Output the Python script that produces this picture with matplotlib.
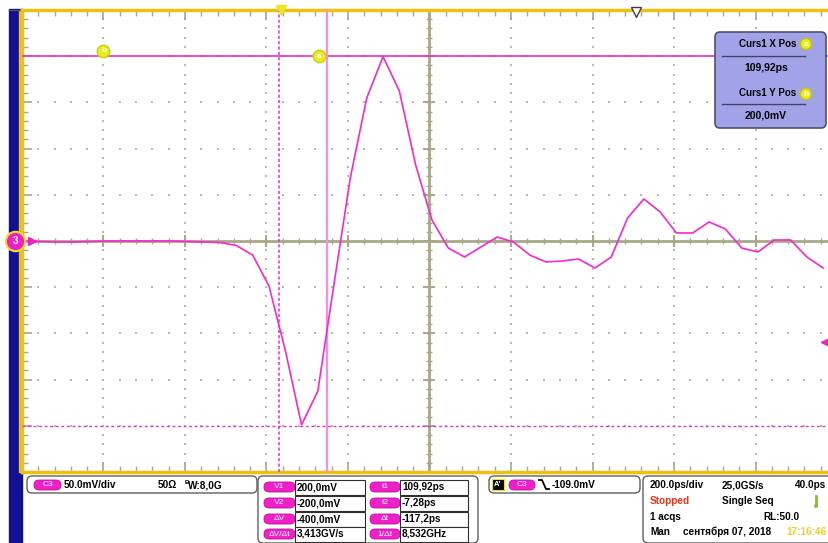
import numpy as np
import matplotlib
matplotlib.use("Agg")
from matplotlib import pyplot as plt
from matplotlib.patches import FancyBboxPatch, Rectangle, Circle
import matplotlib.transforms as mtransforms

plt.rcParams['font.family'] = ['Liberation Sans', 'DejaVu Sans']

# Осциллограмма C3: 25 GS/s -> шаг 40 пс, 50 точек
t_first = -632.0          # пс, время первой точки
dt = 40.0
volts = [0.0, -0.5, -1.1, -1.1, -0.5, 0.0, 0.0, 0.0, 0.0, 0.0,
         -0.5, -1.1, -1.6, -4.9, -15.2, -48.7, -118.0, -199.0, -162.3, -45.5,
         69.3, 154.8, 199.5, 162.3, 82.2, 22.7, -7.6, -17.3, -6.5, 4.3,
         -1.1, -15.2, -22.7, -21.6, -19.5, -29.2, -17.3, 24.9, 45.5, 31.4,
         8.7, 8.7, 20.6, 13.0, -7.6, -11.9, 1.1, 1.1, -17.3, -29.2]  # мВ

# Курсоры
t1 = 109.92
t2 = -7.28
v1 = 200.0
v2 = -200.0
trig_level = -109.0
trig_pos = 868.0

# Развертка
t_left = -638.0
ps_div = 200.0
mv_div = 50.0

times = t_first + dt * np.arange(len(volts))

W, H = 829, 543
fig = plt.figure(figsize=(W / 100, H / 100), dpi=100)
fig.patch.set_facecolor('white')

# Фон (синяя полоса слева) - под окном
back = fig.add_axes([0, 0, 1, 1], zorder=0)
back.set_xlim(0, W)
back.set_ylim(H, 0)
back.axis('off')
back.add_patch(Rectangle((9, 9), 13, H - 9, color='#101090', zorder=1))
back.add_patch(Rectangle((19, 10), 3, 462, color='#f0c010', zorder=2))
back.plot([9, W], [9.5, 9.5], color='#505060', lw=1, zorder=2)

# Окно осциллографа (правый край уходит за кадр)
ax = fig.add_axes([22 / W, (H - 472) / H, 815 / W, 462 / H], zorder=1)
ax.set_xlim(t_left, t_left + 10 * ps_div)
ax.set_ylim(-5 * mv_div, 5 * mv_div)
ax.set_facecolor('white')
for s in ['top', 'left', 'bottom']:
    ax.spines[s].set_color('#f0c010')
    ax.spines[s].set_linewidth(2.5)
ax.spines['right'].set_visible(False)

grid_col = '#a8a888'
xmaj = t_left + ps_div * np.arange(11)
ymaj = mv_div * np.arange(-5, 6)
xmin_ = t_left + ps_div / 5 * np.arange(51)
ymin_ = mv_div / 5 * np.arange(-25, 26)
ax.set_xticks(xmaj)
ax.set_yticks(ymaj)
ax.set_xticks(xmin_, minor=True)
ax.set_yticks(ymin_, minor=True)
ax.tick_params(which='both', direction='in', top=True, bottom=True, left=True, right=False,
               labelbottom=False, labelleft=False, color=grid_col)
ax.tick_params(which='major', length=7, width=1.2)
ax.tick_params(which='minor', length=4, width=1.0)

# точечная сетка
xc = t_left + 5 * ps_div
for xg in xmaj[1:-1]:
    if xg != xc:
        ax.scatter(np.full(len(ymin_), xg), ymin_, s=0.8, color='#b8b8b0', marker='s', lw=0, zorder=1)
for yg in ymaj[1:-1]:
    if yg != 0:
        ax.scatter(xmin_, np.full(len(xmin_), yg), s=0.8, color='#b8b8b0', marker='s', lw=0, zorder=1)

# центральный крест
ax.axhline(0, color=grid_col, lw=2, zorder=2)
ax.axvline(xc, color=grid_col, lw=2, zorder=2)
ax.plot(xmin_, np.zeros(len(xmin_)), ls='none', marker='|', ms=5, mew=1, color=grid_col, zorder=2)
ax.plot(xmaj, np.zeros(len(xmaj)), ls='none', marker='|', ms=9, mew=1.4, color=grid_col, zorder=2)
ax.plot(np.full(len(ymin_), xc), ymin_, ls='none', marker='_', ms=5, mew=1, color=grid_col, zorder=2)
ax.plot(np.full(len(ymaj), xc), ymaj, ls='none', marker='_', ms=9, mew=1.4, color=grid_col, zorder=2)

# курсоры
ax.axhline(v1, color='#e830c8', lw=1.2, zorder=3)
ax.axhline(v2, color='#e830c8', lw=1.0, ls=(0, (2, 2)), zorder=3)
ax.axvline(t1, color='#f490e4', lw=1.6, zorder=3)
ax.axvline(t2, color='#e030c8', lw=1.1, ls=(0, (2, 1.5)), zorder=3)

# сигнал
ax.plot(times, volts, color='#f828d0', lw=1.2, zorder=5)

# метки курсоров
def ycirc(x, y, letter):
    ax.plot(x, y, marker='o', ms=9, color='#e8ec20', mec='#d0d000', zorder=6, clip_on=False)
    ax.text(x, y, letter, color='white', fontsize=6, fontweight='bold', ha='center', va='center', zorder=7)

ycirc(t_left + 1.0 * ps_div, v1 + 6, 'b')
ycirc(t1 - 20, v1, 'a')
ax.plot(t2 + 6, 5 * mv_div, marker='v', ms=7, color='#e8e820', zorder=8, clip_on=False)
ax.plot(trig_pos, 5 * mv_div - 2, marker='v', ms=7, mfc='white', mec='#404040', mew=1, zorder=8, clip_on=False)
ax.plot(t_left + 9.85 * ps_div, trig_level, marker='<', ms=6, color='#f020c8', zorder=8, clip_on=False)
ax.plot([t_left + 9.85 * ps_div, t_left + 10 * ps_div], [trig_level, trig_level], color='#f020c8', lw=1, clip_on=False)

# маркер канала
trans = mtransforms.blended_transform_factory(ax.transAxes, ax.transData)
ax.plot(0.012, 0, marker='>', ms=6, color='#f020c8', transform=trans, clip_on=False, zorder=8)
ax.plot(-0.008, 0, marker='o', ms=14, mfc='#f020c8', mec='#f0e020', mew=1.5, transform=trans, clip_on=False, zorder=9)
ax.text(-0.008, 0, '3', transform=trans, color='white', fontsize=7, fontweight='bold', ha='center', va='center', zorder=10)

# Оверлей в пикселях
ov = fig.add_axes([0, 0, 1, 1], zorder=2)
ov.set_xlim(0, W)
ov.set_ylim(H, 0)
ov.axis('off')
ov.patch.set_alpha(0)

# окно Curs1
ov.add_patch(FancyBboxPatch((715, 32), 111, 96, boxstyle='round,pad=0,rounding_size=5',
                            fc='#a2a2e8', ec='#505070', lw=1.2, zorder=5))
ov.text(768, 44, 'Curs1 X Pos', fontsize=7, fontweight='bold', ha='center', va='center', zorder=6)
ov.plot([722, 805], [56, 56], color='#404060', lw=1, zorder=6)
ov.text(766, 68, '109,92ps', fontsize=7.5, fontweight='bold', ha='center', va='center', zorder=6)
ov.text(768, 93, 'Curs1 Y Pos', fontsize=7, fontweight='bold', ha='center', va='center', zorder=6)
ov.plot([722, 805], [104, 104], color='#404060', lw=1, zorder=6)
ov.text(766, 116, '200,0mV', fontsize=7.5, fontweight='bold', ha='center', va='center', zorder=6)
for yy, let in [(44, 'a'), (94, 'b')]:
    ov.add_patch(Circle((806, yy), 5.5, fc='#e8ec20', ec='#c8c800', zorder=6))
    ov.text(806, yy, let, color='white', fontsize=6, fontweight='bold', ha='center', va='center', zorder=7)

def panel(x, y, w, h):
    ov.add_patch(FancyBboxPatch((x, y), w, h, boxstyle='round,pad=0,rounding_size=5',
                                fc='white', ec='#606060', lw=1, zorder=3))

def pill(x, y, w, label):
    ov.add_patch(FancyBboxPatch((x, y - 5), w, 10, boxstyle='round,pad=0,rounding_size=5',
                                fc='#f020c8', ec='#c010a0', lw=0.6, zorder=4))
    ov.text(x + w / 2, y, label, color='white', fontsize=6, ha='center', va='center', zorder=5)

fs = 7.2
# канал
panel(27, 476, 230, 17)
pill(34, 485, 27, 'C3')
ov.text(64, 485, '50.0mV/div', fontsize=fs, fontweight='bold', va='center', zorder=5)
ov.text(158, 485, '50Ω', fontsize=fs, fontweight='bold', va='center', zorder=5)
ov.text(185, 482, 'B', fontsize=4.5, fontweight='bold', va='center', zorder=5)
ov.text(188, 486, 'W:8,0G', fontsize=fs, fontweight='bold', va='center', zorder=5)

# измерения курсоров
panel(258, 476, 220, 67)
rows = [487, 503, 519, 534]
left_lab = ['V1', 'V2', 'ΔV', 'ΔV/Δt']
left_val = ['200,0mV', '-200,0mV', '-400,0mV', '3,413GV/s']
right_lab = ['t1', 't2', 'Δt', '1/Δt']
right_val = ['109,92ps', '-7,28ps', '-117,2ps', '8,532GHz']
for yy, a, b, c, d in zip(rows, left_lab, left_val, right_lab, right_val):
    pill(264, yy, 31, a)
    ov.add_patch(Rectangle((295, yy - 7.5), 70, 15, fc='white', ec='#303030', lw=0.8, zorder=4))
    ov.text(297, yy, b, fontsize=fs, fontweight='bold', va='center', zorder=5)
    pill(370, yy, 30, c)
    ov.add_patch(Rectangle((400, yy - 7.5), 68, 15, fc='white', ec='#303030', lw=0.8, zorder=4))
    ov.text(402, yy, d, fontsize=fs, fontweight='bold', va='center', zorder=5)

# триггер
panel(489, 476, 151, 17)
ov.add_patch(Rectangle((492, 479), 12, 11, fc='black', ec='#e8e020', lw=0.8, zorder=4))
ov.text(498, 484.5, "A'", color='white', fontsize=5.5, fontweight='bold', ha='center', va='center', zorder=5)
pill(509, 485, 26, 'C3')
ov.plot([539, 542, 546, 549], [480, 480, 489, 489], color='black', lw=1.3, zorder=5)
ov.text(552, 485, '-109.0mV', fontsize=fs, fontweight='bold', va='center', zorder=5)

# развертка
panel(643, 476, 195, 67)
ov.text(650, 485, '200.0ps/div', fontsize=fs, fontweight='bold', va='center', zorder=5)
ov.text(722, 485, '25,0GS/s', fontsize=fs, fontweight='bold', va='center', zorder=5)
ov.text(795, 485, '40.0ps', fontsize=fs, fontweight='bold', va='center', zorder=5)
ov.text(650, 501, 'Stopped', fontsize=fs, fontweight='bold', va='center', color='#f03010', zorder=5)
ov.text(722, 501, 'Single Seq', fontsize=fs, fontweight='bold', va='center', zorder=5)
ov.plot([816, 816], [496, 505], color='#90c020', lw=2, zorder=5)
ov.add_patch(Circle((816, 506), 2, fc='#90c020', ec='none', zorder=5))
ov.text(650, 517, '1 acqs', fontsize=fs, fontweight='bold', va='center', zorder=5)
ov.text(763, 517, 'RL:50.0', fontsize=fs, fontweight='bold', va='center', zorder=5)
ov.text(650, 532, 'Man', fontsize=fs, fontweight='bold', va='center', zorder=5)
ov.text(683, 532, 'сентября 07, 2018', fontsize=fs, fontweight='bold', va='center', zorder=5)
ov.text(786, 532, '17:16:46', fontsize=fs, fontweight='bold', va='center', color='#f0d020', zorder=5)

fig.savefig('out.png', dpi=100)
